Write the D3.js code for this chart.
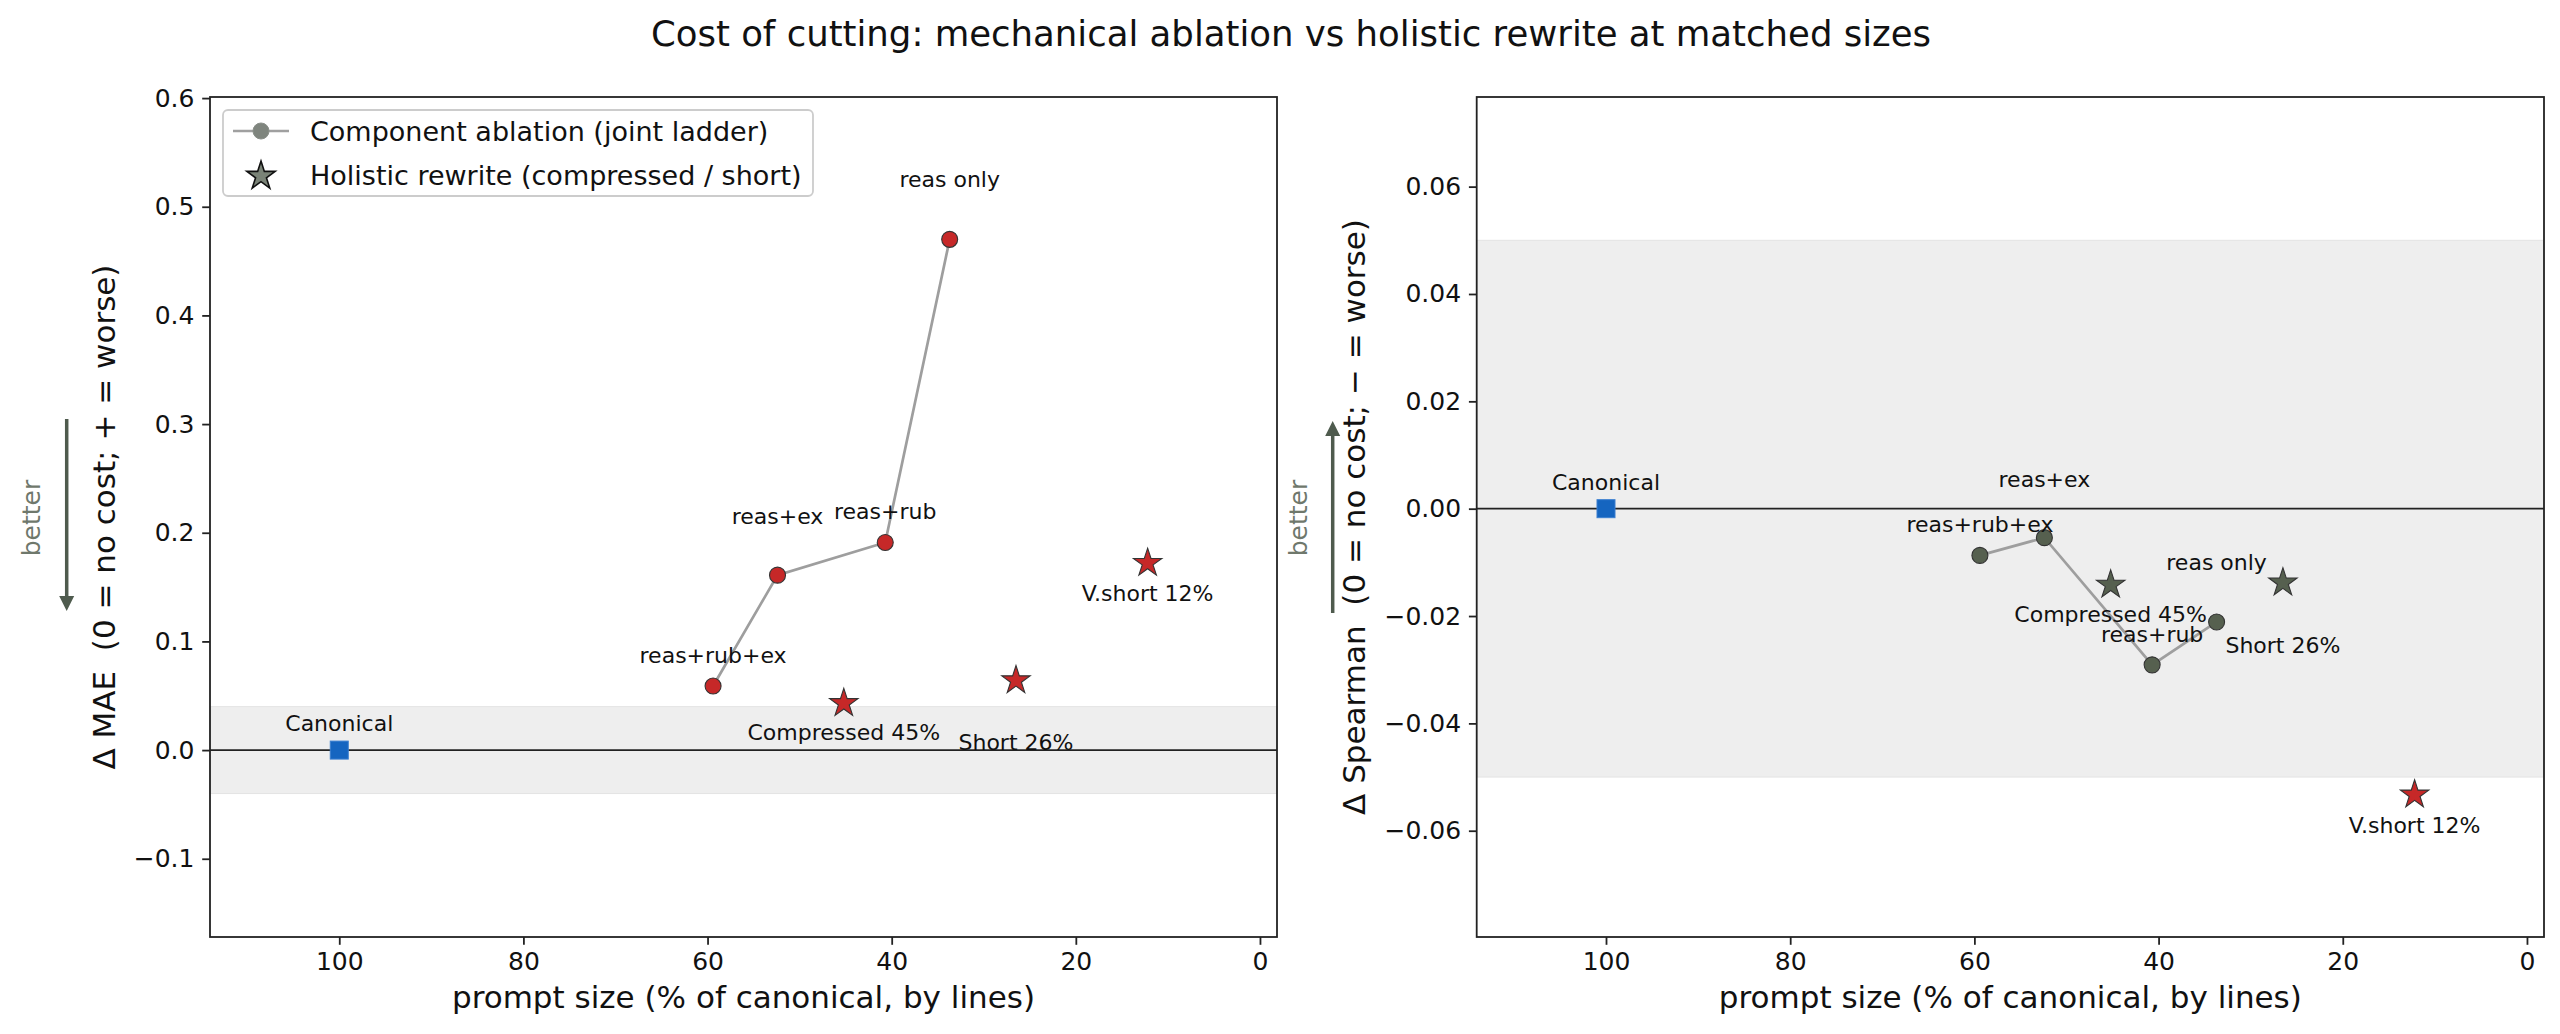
<!DOCTYPE html>
<html>
<head>
<meta charset="utf-8">
<script src="https://cdn.jsdelivr.net/npm/d3@7"></script>
<style>
  body { margin: 0; background: #fff; }
  text { font-family: "DejaVu Sans", sans-serif; }
</style>
</head>
<body>
<div id="chart"></div>
<script>
// Component ablation ladder (joint)
const ladderLabels = ["reas+rub+ex", "reas+ex", "reas+rub", "reas only"];
const ladderSize = [59.4, 52.4, 40.7, 33.7];
const ladderMAE = [0.059, 0.161, 0.191, 0.470];
const ladderSpearman = [-0.0087, -0.0054, -0.0291, -0.0211];

// Holistic rewrites
const rewriteLabels = ["Compressed 45%", "Short 26%", "V.short 12%"];
const rewriteSize = [45.2, 26.5, 12.2];
const rewriteMAE = [0.044, 0.065, 0.173];
const rewriteSpearman = [-0.0140, -0.0136, -0.0531];

// Canonical reference
const canonicalSize = 100;
const canonicalValue = 0;

// axis ticks
const xTicks = [100, 80, 60, 40, 20, 0];
const maeTicks = [-0.1, 0.0, 0.1, 0.2, 0.3, 0.4, 0.5, 0.6];
const spearmanTicks = [-0.06, -0.04, -0.02, 0.00, 0.02, 0.04, 0.06];

// noise bands
const maeBand = 0.04;
const spearmanBand = 0.05;

const W = 2560, H = 1034;
const plotTop = 97, plotBottom = 937;
const RED = "#c62828", GREEN = "#56604f", BLUE = "#1565c0";

// label offsets (px, relative to the point)
const labelDy = {
    "Canonical": -27, "reas+rub+ex": -31, "reas+ex": -59, "reas+rub": -31,
    "reas only": -60, "Compressed 45%": 30, "Short 26%": 63, "V.short 12%": 31
};

const svg = d3.select("#chart").append("svg")
    .attr("width", W)
    .attr("height", H);

svg.append("text")
    .attr("x", 1291)
    .attr("y", 46)
    .attr("text-anchor", "middle")
    .style("font-size", "35.5px")
    .attr("fill", "#111")
    .text("Cost of cutting: mechanical ablation vs holistic rewrite at matched sizes");

function drawPanel(p) {
    const x = d3.scaleLinear().domain([114.04, -1.85]).range([p.x0, p.x1]);
    const y = d3.scaleLinear().domain(p.ydom).range([plotBottom, plotTop]);
    const g = svg.append("g");

    // noise band
    g.append("rect")
        .attr("x", p.x0)
        .attr("width", p.x1 - p.x0)
        .attr("y", y(p.band))
        .attr("height", y(-p.band) - y(p.band))
        .attr("fill", "#eeeeee")
        .attr("stroke", "#e3e3e3")
        .attr("stroke-width", 1);

    // zero line
    g.append("line")
        .attr("x1", p.x0).attr("x2", p.x1)
        .attr("y1", y(0)).attr("y2", y(0))
        .attr("stroke", "#222")
        .attr("stroke-width", 1.8);

    // axes
    const yAxis = g.append("g")
        .attr("transform", `translate(${p.x0},0)`)
        .call(d3.axisLeft(y).tickValues(p.ticks).tickFormat(d3.format(p.fmt))
            .tickSize(7.8).tickPadding(7.8));
    const xAxis = g.append("g")
        .attr("transform", `translate(0,${plotBottom})`)
        .call(d3.axisBottom(x).tickValues(xTicks).tickFormat(d3.format("d"))
            .tickSize(7.8).tickPadding(7.8));
    [yAxis, xAxis].forEach(a => {
        a.select(".domain").remove();
        a.selectAll(".tick line").attr("stroke", "#222").attr("stroke-width", 1.8);
        a.selectAll(".tick text")
            .style("font-family", "DejaVu Sans")
            .style("font-size", "25px")
            .attr("fill", "#111");
    });

    // frame
    g.append("rect")
        .attr("x", p.x0).attr("y", plotTop)
        .attr("width", p.x1 - p.x0).attr("height", plotBottom - plotTop)
        .attr("fill", "none")
        .attr("stroke", "#222")
        .attr("stroke-width", 1.8);

    // ladder line
    const ladder = ladderSize.map((s, i) => ({ s: s, v: p.ladder[i], label: ladderLabels[i] }));
    const rewrite = rewriteSize.map((s, i) => ({ s: s, v: p.rewrite[i], label: rewriteLabels[i] }));
    const colorOf = v => Math.abs(v) > p.band ? RED : GREEN;

    g.append("path")
        .datum(ladder)
        .attr("fill", "none")
        .attr("stroke", "#9e9e9e")
        .attr("stroke-width", 2.7)
        .attr("d", d3.line().x(d => x(d.s)).y(d => y(d.v)));

    g.selectAll(".ladderPt")
        .data(ladder)
        .enter().append("circle")
        .attr("cx", d => x(d.s))
        .attr("cy", d => y(d.v))
        .attr("r", 8)
        .attr("fill", d => colorOf(d.v))
        .attr("stroke", "#333")
        .attr("stroke-width", 1.1);

    const star = d3.symbol().type(d3.symbolStar).size(250);
    g.selectAll(".rewritePt")
        .data(rewrite)
        .enter().append("path")
        .attr("transform", d => `translate(${x(d.s)},${y(d.v) + 1})`)
        .attr("d", star)
        .attr("fill", d => colorOf(d.v))
        .attr("stroke", "#333")
        .attr("stroke-width", 1.1);

    // canonical square
    g.append("rect")
        .attr("x", x(canonicalSize) - 9)
        .attr("y", y(canonicalValue) - 9)
        .attr("width", 18).attr("height", 18)
        .attr("fill", BLUE)
        .attr("stroke", "#3a7fd0")
        .attr("stroke-width", 1);

    // point labels
    const labels = [{ s: canonicalSize, v: canonicalValue, label: "Canonical" }].concat(ladder, rewrite);
    g.selectAll(".ptLabel")
        .data(labels)
        .enter().append("text")
        .attr("x", d => x(d.s))
        .attr("y", d => y(d.v) + labelDy[d.label])
        .attr("dy", "0.36em")
        .attr("text-anchor", "middle")
        .style("font-size", "22px")
        .attr("fill", "#111")
        .text(d => d.label);

    // axis titles
    svg.append("text")
        .attr("x", (p.x0 + p.x1) / 2)
        .attr("y", 1008)
        .attr("text-anchor", "middle")
        .style("font-size", "31px")
        .attr("fill", "#111")
        .text("prompt size (% of canonical, by lines)");

    svg.append("text")
        .attr("transform", `translate(${p.ylabX},${(plotTop + plotBottom) / 2}) rotate(-90)`)
        .attr("text-anchor", "middle")
        .style("font-size", "31px")
        .style("white-space", "pre")
        .attr("fill", "#111")
        .text(p.ylabel);

    // "better" arrow
    const ax = p.arrowX, a0 = p.arrowFrom, a1 = p.arrowTo;
    const dir = a1 > a0 ? 1 : -1;
    svg.append("line")
        .attr("x1", ax).attr("x2", ax)
        .attr("y1", a0).attr("y2", a1 - dir * 14)
        .attr("stroke", "#4f5b4e")
        .attr("stroke-width", 3.5);
    svg.append("path")
        .attr("d", `M${ax - 7.5},${a1 - dir * 15} L${ax + 7.5},${a1 - dir * 15} L${ax},${a1} Z`)
        .attr("fill", "#4f5b4e");
    svg.append("text")
        .attr("transform", `translate(${p.betterX},518) rotate(-90)`)
        .attr("text-anchor", "middle")
        .style("font-size", "25px")
        .attr("fill", "#6f786c")
        .text("better");
}

drawPanel({
    x0: 210, x1: 1277,
    ydom: [-0.172, 0.601],
    ticks: maeTicks, fmt: ".1f",
    band: maeBand,
    ladder: ladderMAE, rewrite: rewriteMAE,
    ylabel: "\u0394 MAE  (0 = no cost; + = worse)",
    ylabX: 115,
    arrowX: 66.7, arrowFrom: 419, arrowTo: 611,
    betterX: 40
});

drawPanel({
    x0: 1476.7, x1: 2544,
    ydom: [-0.0798, 0.0767],
    ticks: spearmanTicks, fmt: ".2f",
    band: spearmanBand,
    ladder: ladderSpearman, rewrite: rewriteSpearman,
    ylabel: "\u0394 Spearman  (0 = no cost; \u2212 = worse)",
    ylabX: 1365,
    arrowX: 1332.7, arrowFrom: 613, arrowTo: 421,
    betterX: 1307
});

// legend (left panel)
const leg = svg.append("g");
leg.append("rect")
    .attr("x", 223).attr("y", 110)
    .attr("width", 590).attr("height", 86)
    .attr("rx", 5)
    .attr("fill", "#fff")
    .attr("fill-opacity", 0.8)
    .attr("stroke", "#cccccc")
    .attr("stroke-width", 1.8);
leg.append("line")
    .attr("x1", 233).attr("x2", 289)
    .attr("y1", 131).attr("y2", 131)
    .attr("stroke", "#a0a0a0")
    .attr("stroke-width", 2.7);
leg.append("circle")
    .attr("cx", 261).attr("cy", 131).attr("r", 8)
    .attr("fill", "#7f857e")
    .attr("stroke", "#8a8f89")
    .attr("stroke-width", 1);
leg.append("path")
    .attr("transform", "translate(261,176)")
    .attr("d", d3.symbol().type(d3.symbolStar).size(250))
    .attr("fill", "#7a8377")
    .attr("stroke", "#111")
    .attr("stroke-width", 1.6);
leg.selectAll(".legText")
    .data(["Component ablation (joint ladder)", "Holistic rewrite (compressed / short)"])
    .enter().append("text")
    .attr("x", 310)
    .attr("y", (d, i) => 131 + i * 44)
    .attr("dy", "0.36em")
    .style("font-size", "27px")
    .attr("fill", "#111")
    .text(d => d);
</script>
</body>
</html>
